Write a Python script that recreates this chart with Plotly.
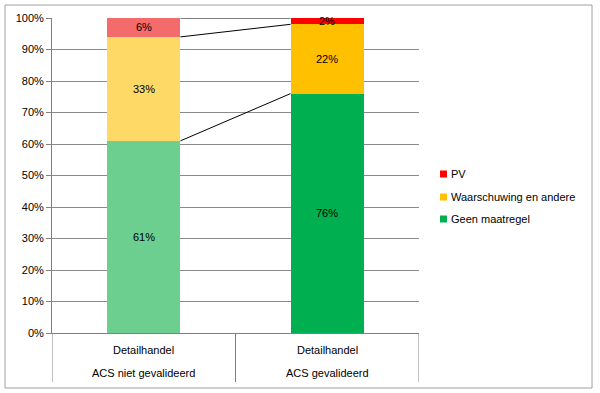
import plotly.graph_objects as go

categories_top = ["Detailhandel", "Detailhandel"]
categories_bottom = ["ACS niet gevalideerd", "ACS gevalideerd"]
series_names = ["Geen maatregel", "Waarschuwing en andere", "PV"]
values = {
    "Geen maatregel": [61, 76],
    "Waarschuwing en andere": [33, 22],
    "PV": [6, 2],
}
bar_colors = {
    "Geen maatregel": ["#6ccf90", "#00b050"],
    "Waarschuwing en andere": ["#ffd966", "#ffc000"],
    "PV": ["#f46b6b", "#ff0000"],
}
legend_colors = {"Geen maatregel": "#00b050", "Waarschuwing en andere": "#ffc000", "PV": "#ff0000"}
y_ticks = list(range(0, 101, 10))

FONT = "Liberation Sans"
xpos = [0.5, 1.5]
bw = 0.4
L, R, T, B = 52, 181, 18, 60
PW, PH = 600 - L - R, 393 - T - B

def px_x(p):
    return (p - L) / PW

def px_y(p):
    return (393 - B - p) / PH

fig = go.Figure()
ann = []
for name in series_names:
    fig.add_trace(go.Bar(
        x=xpos, y=values[name], width=bw, name=name,
        marker=dict(color=bar_colors[name], line=dict(width=0)),
        showlegend=False, hoverinfo="skip",
    ))

# labels and connector lines
cum = [0, 0]
for name in series_names:
    prev = cum
    cum = [cum[i] + values[name][i] for i in range(2)]
    for i in range(2):
        ann.append(dict(x=xpos[i], xref="x", y=(prev[i] + cum[i]) / 2, yref="y",
                        text=f"{values[name][i]}%", showarrow=False,
                        font=dict(family=FONT, size=11, color="#000")))
    fig.add_trace(go.Scatter(
        x=[xpos[0] + bw / 2, xpos[1] - bw / 2], y=cum, mode="lines",
        line=dict(color="#000000", width=1), showlegend=False, hoverinfo="skip",
    ))

for i in range(2):
    ann.append(dict(x=xpos[i], xref="x", y=px_y(350), yref="paper", yanchor="middle",
                    text=categories_top[i], showarrow=False,
                    font=dict(family=FONT, size=11, color="#000")))
    ann.append(dict(x=xpos[i], xref="x", y=px_y(373), yref="paper", yanchor="middle",
                    text=categories_bottom[i], showarrow=False,
                    font=dict(family=FONT, size=11, color="#000")))

shapes = []
for xv in [0, 1, 2]:
    shapes.append(dict(type="line", xref="x", yref="paper", x0=xv, x1=xv, y0=0, y1=px_y(382),
                       line=dict(color="#808080", width=1)))
shapes.append(dict(type="rect", xref="paper", yref="paper", x0=px_x(5), x1=px_x(592),
                   y0=px_y(388), y1=px_y(5), line=dict(color="#a0a0a0", width=1)))

# manual legend
leg_y = {"PV": 174, "Waarschuwing en andere": 197, "Geen maatregel": 219}
for name in ["PV", "Waarschuwing en andere", "Geen maatregel"]:
    yc = leg_y[name]
    shapes.append(dict(type="rect", xref="paper", yref="paper",
                       x0=px_x(440), x1=px_x(447), y0=px_y(yc + 3.5), y1=px_y(yc - 3.5),
                       fillcolor=legend_colors[name], line=dict(width=0)))
    ann.append(dict(x=px_x(449), xref="paper", y=px_y(yc), yref="paper",
                    xanchor="left", yanchor="middle", text=name, showarrow=False,
                    font=dict(family=FONT, size=11, color="#000")))

fig.update_layout(
    width=600, height=393,
    margin=dict(l=L, r=R, t=T, b=B, autoexpand=False),
    plot_bgcolor="white", paper_bgcolor="white",
    barmode="stack", bargap=0, showlegend=False,
    annotations=ann, shapes=shapes,
    font=dict(family=FONT, size=11, color="#000"),
    xaxis=dict(range=[0, 2], showticklabels=False, showgrid=False, zeroline=False,
               showline=True, linecolor="#808080", linewidth=1, fixedrange=True),
    yaxis=dict(range=[0, 100], tickvals=y_ticks, ticktext=[f"{v}%" for v in y_ticks],
               showgrid=True, gridcolor="#8a8a8a", gridwidth=1, zeroline=False,
               showline=True, linecolor="#808080", linewidth=1,
               ticks="outside", ticklen=5, tickcolor="#808080",
               tickfont=dict(family=FONT, size=11, color="#000")),
)
fig.write_html("out.html", config={"displayModeBar": False},
               post_script="document.body.style.margin='0';")
